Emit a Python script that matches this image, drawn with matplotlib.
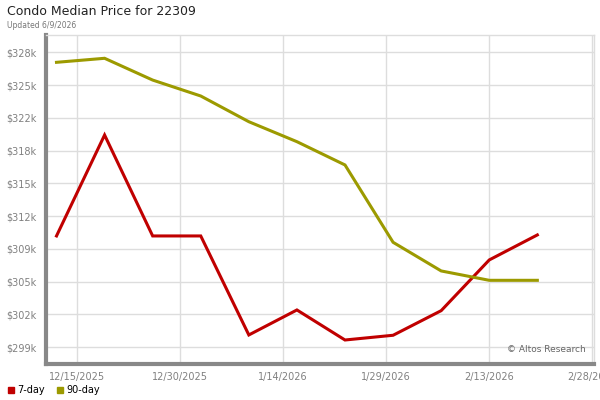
import datetime as dt
import matplotlib
matplotlib.use("Agg")
import matplotlib.pyplot as plt
import matplotlib.dates as mdates
from matplotlib.lines import Line2D

dates = [dt.date(2025, 12, 12), dt.date(2025, 12, 19), dt.date(2025, 12, 26),
         dt.date(2026, 1, 2), dt.date(2026, 1, 9), dt.date(2026, 1, 16),
         dt.date(2026, 1, 23), dt.date(2026, 1, 30), dt.date(2026, 2, 6),
         dt.date(2026, 2, 13), dt.date(2026, 2, 20)]
day7 = [309840, 319850, 309840, 309840, 300020, 302500, 299520, 299990, 302430, 307460, 309940]
day90 = [327060, 327460, 325300, 323720, 321170, 319190, 316880, 309210, 306370, 305440, 305440]

x_ticks = [dt.date(2025, 12, 15), dt.date(2025, 12, 30), dt.date(2026, 1, 14),
           dt.date(2026, 1, 29), dt.date(2026, 2, 13), dt.date(2026, 2, 28)]
x_labels = ["12/15/2025", "12/30/2025", "1/14/2026", "1/29/2026", "2/13/2026", "2/28/2026"]
y_ticks = [298800, 302050, 305300, 308550, 311800, 315050, 318300, 321550, 324800, 328050]
y_labels = ["$299k", "$302k", "$305k", "$309k", "$312k", "$315k", "$318k", "$322k", "$325k", "$328k"]

RED = "#C00000"
OLIVE = "#9C9A00"

fig = plt.figure(figsize=(6, 4), dpi=100)
ax = fig.add_axes([0.077, 0.09, 0.913, 0.8225])

ax.plot(dates, day7, color=RED, lw=2.2, solid_joinstyle="miter", zorder=3)
ax.plot(dates, day90, color=OLIVE, lw=2.2, solid_joinstyle="miter", zorder=3)

ax.set_xlim(mdates.date2num(dt.date(2025, 12, 10)) + 0.5, mdates.date2num(dt.date(2026, 2, 28)) + 0.25)
ax.set_ylim(297140, 329770)
ax.set_xticks(x_ticks)
ax.set_xticklabels(x_labels)
ax.set_yticks(y_ticks)
ax.set_yticklabels(y_labels)
ax.tick_params(axis="both", length=0, labelsize=7, labelcolor="#808080")
ax.tick_params(axis="x", pad=6)
ax.tick_params(axis="y", pad=7)

ax.grid(True, color="#dddddd", lw=1)
ax.set_axisbelow(True)
for s in ["top", "right"]:
    ax.spines[s].set_color("#dddddd")
    ax.spines[s].set_linewidth(1)
for s in ["left", "bottom"]:
    ax.spines[s].set_color("#888888")
    ax.spines[s].set_linewidth(3)

ax.text(0.985, 0.03, "© Altos Research", transform=ax.transAxes, ha="right", va="bottom",
        fontsize=6.5, color="#666666")

fig.text(0.012, 0.988, "Condo Median Price for 22309", ha="left", va="top", fontsize=9, color="#222222")
fig.text(0.012, 0.948, "Updated 6/9/2026", ha="left", va="top", fontsize=5.5, color="#777777")

handles = [Line2D([], [], marker="s", ls="none", color=RED, markersize=5),
           Line2D([], [], marker="s", ls="none", color=OLIVE, markersize=5)]
fig.legend(handles, ["7-day", "90-day"], loc="lower left", bbox_to_anchor=(-0.005, -0.01), ncol=2,
           frameon=False, fontsize=7, handletextpad=0.2, columnspacing=1.0, handlelength=1.0)

fig.savefig("out.png", dpi=100)
